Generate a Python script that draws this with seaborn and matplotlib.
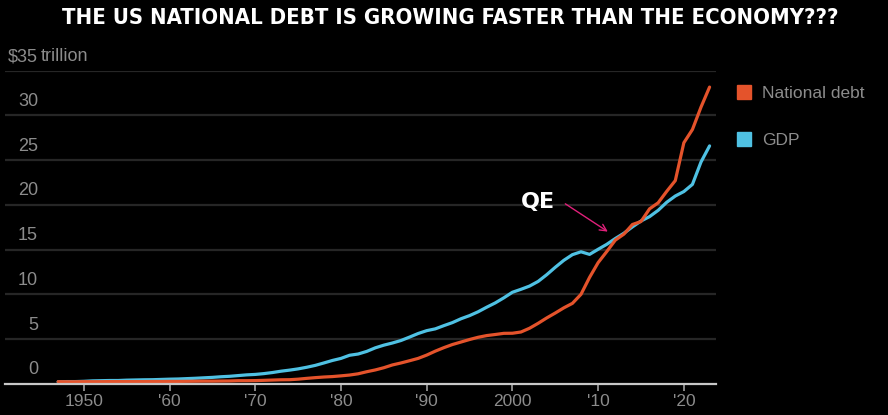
import matplotlib
matplotlib.use("Agg")
import matplotlib.pyplot as plt
import matplotlib.transforms as mtransforms
from matplotlib.lines import Line2D
import seaborn as sns
import pandas as pd

years = list(range(1947, 2024))
debt = [0.26, 0.25, 0.25, 0.26, 0.26, 0.26, 0.27, 0.27, 0.27, 0.27,
        0.27, 0.28, 0.28, 0.29, 0.29, 0.30, 0.31, 0.32, 0.32, 0.33,
        0.34, 0.37, 0.37, 0.38, 0.41, 0.44, 0.47, 0.48, 0.54, 0.63,
        0.71, 0.78, 0.83, 0.91, 1.00, 1.14, 1.37, 1.57, 1.82, 2.13,
        2.35, 2.60, 2.86, 3.23, 3.67, 4.06, 4.41, 4.69, 4.97, 5.22,
        5.41, 5.53, 5.66, 5.67, 5.81, 6.23, 6.78, 7.38, 7.93, 8.51,
        9.01, 10.02, 11.91, 13.56, 14.79, 16.07, 16.74, 17.82, 18.15, 19.57,
        20.24, 21.52, 22.72, 26.95, 28.43, 30.93, 33.17]
gdp = [0.25, 0.27, 0.27, 0.30, 0.35, 0.37, 0.39, 0.39, 0.43, 0.45,
       0.47, 0.48, 0.51, 0.54, 0.56, 0.60, 0.64, 0.69, 0.74, 0.81,
       0.86, 0.94, 1.02, 1.07, 1.16, 1.28, 1.43, 1.55, 1.69, 1.87,
       2.08, 2.35, 2.63, 2.86, 3.21, 3.35, 3.64, 4.04, 4.34, 4.58,
       4.86, 5.24, 5.64, 5.96, 6.16, 6.52, 6.86, 7.29, 7.64, 8.07,
       8.58, 9.06, 9.63, 10.25, 10.58, 10.94, 11.46, 12.21, 13.04, 13.82,
       14.45, 14.77, 14.48, 15.05, 15.60, 16.25, 16.84, 17.55, 18.21, 18.70,
       19.40, 20.30, 21.00, 21.50, 22.30, 24.80, 26.60]

series_names = ["National debt", "GDP"]
x_ticks = [1950, 1960, 1970, 1980, 1990, 2000, 2010, 2020]
x_tick_labels = ["1950", "'60", "'70", "'80", "'90", "2000", "'10", "'20"]
y_ticks = [0, 5, 10, 15, 20, 25, 30, 35]
y_tick_labels = ["0", "5", "10", "15", "20", "25", "30", "$35"]
title = "THE US NATIONAL DEBT IS GROWING FASTER THAN THE ECONOMY???"
annotation_text = "QE"

colors = {"National debt": "#e4532b", "GDP": "#4fc1e3"}
bg = "#000000"
text_gray = "#8c8c8c"

df = pd.DataFrame({
    "year": years * 2,
    "value": debt + gdp,
    "series": [series_names[0]] * len(years) + [series_names[1]] * len(years),
})

sns.set_theme(style="dark")
plt.rcParams["font.family"] = ["Liberation Sans", "DejaVu Sans"]

W, H = 888, 415
fig = plt.figure(figsize=(W / 100, H / 100), dpi=100, facecolor=bg)
ax = fig.add_axes([5 / W, 1 - 384 / H, (716 - 5) / W, (384 - 70.7) / H])
ax.set_facecolor(bg)

for yt in y_ticks[1:]:
    ax.axhline(yt, color="#262626", lw=1.6, zorder=0)

sns.lineplot(data=df, x="year", y="value", hue="series", palette=colors,
             hue_order=["GDP", "National debt"], linewidth=2.3, ax=ax,
             legend=False, zorder=3)

ax.set_xlim(1940.8, 2023.75)
ax.set_ylim(0, 35)
ax.set_xlabel("")
ax.set_ylabel("")
ax.grid(False)
for s in ["top", "right", "left"]:
    ax.spines[s].set_visible(False)
ax.spines["bottom"].set_color("#c8c8c8")
ax.spines["bottom"].set_linewidth(1.6)
ax.spines["bottom"].set_zorder(4)

ax.set_xticks(x_ticks)
ax.set_xticklabels(x_tick_labels, color=text_gray, fontsize=12.5)
ax.tick_params(axis="x", length=5, width=1.2, color="#a0a0a0", pad=2,
               direction="out", bottom=True)
ax.set_yticks([])

trans = mtransforms.blended_transform_factory(ax.transAxes, ax.transData)
off = mtransforms.offset_copy(trans, fig=fig, x=0, y=4, units="points")
x_lab = (38 - 5) / (716 - 5)
for yt, lab in zip(y_ticks, y_tick_labels):
    ax.text(x_lab, yt, lab, transform=off, ha="right", va="bottom",
            color=text_gray, fontsize=13, clip_on=False)
ax.text(x_lab + 0.004, y_ticks[-1], "trillion", transform=off, ha="left",
        va="bottom", color=text_gray, fontsize=13, clip_on=False)

handles = [Line2D([0], [0], marker="s", linestyle="none", markersize=10,
                  markerfacecolor=colors[n], markeredgecolor=colors[n])
           for n in series_names]
leg = fig.legend(handles, series_names, loc="upper left",
                 bbox_to_anchor=(720 / W, 1 - 70 / H), frameon=False,
                 labelcolor=text_gray, fontsize=12.5, handletextpad=0.5,
                 labelspacing=1.85, handlelength=1.0)

ax.annotate("", xy=(2011.4, 16.85), xytext=(2005.9, 20.3),
            arrowprops=dict(arrowstyle="->", color="#e0207a", lw=1.0,
                            mutation_scale=12), zorder=5)
ax.text(2003.0, 20.35, annotation_text, color="white", fontsize=16,
        fontweight="heavy", ha="center", va="center", zorder=5,
        family=["DejaVu Sans"])

t = fig.text(450 / W, 1 - 18 / H, title, color="white", fontsize=16,
             fontweight="bold", ha="center", va="center",
             fontstretch="condensed",
             family=["DejaVu Sans", "Liberation Sans"])
fig.canvas.draw()
wpx = t.get_window_extent().width
t.set_fontsize(16 * 776 / wpx)

fig.savefig("out.png", dpi=100, facecolor=bg)
